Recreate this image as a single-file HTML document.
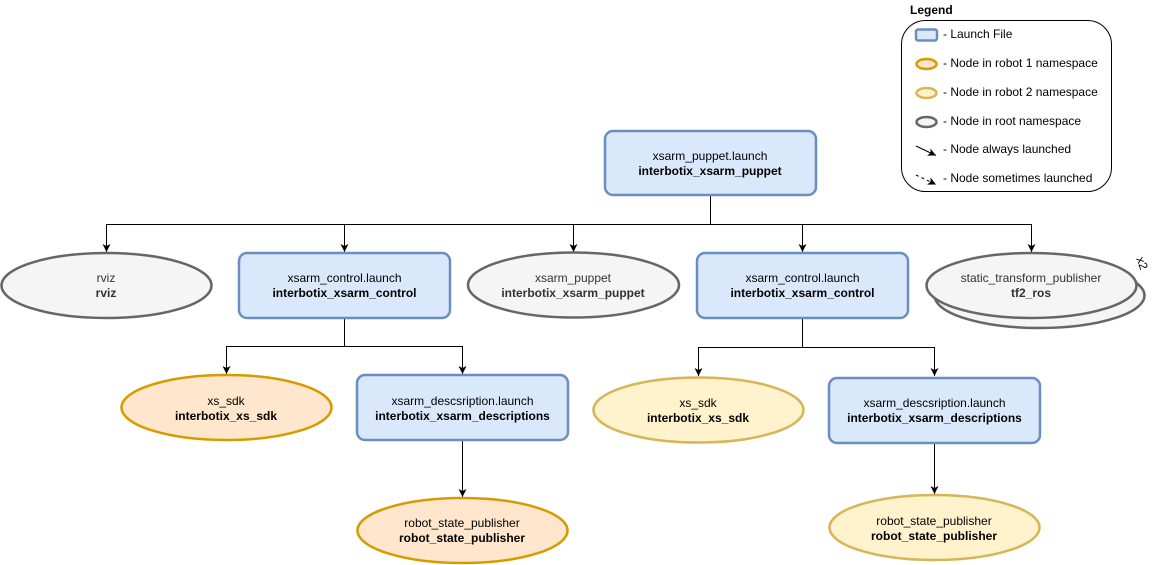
<!DOCTYPE html>
<html>
<head>
<meta charset="utf-8">
<style>
html,body{margin:0;padding:0;background:#fff;}
svg{display:block;}
text{font-family:"Liberation Sans",Arial,sans-serif;font-size:12px;}
.b{font-weight:bold;}
</style>
</head>
<body>
<svg width="1159" height="565" viewBox="0 0 1159 565" xmlns="http://www.w3.org/2000/svg">
<defs>
<marker id="ah" markerWidth="10" markerHeight="10" refX="0" refY="0" orient="auto" markerUnits="userSpaceOnUse" viewBox="-9 -5 10 10">
<path d="M0,0 L-8,-4 L-6,0 L-8,4 Z" fill="#000"/>
</marker>
</defs>

<!-- connectors -->
<g stroke="#000" stroke-width="1" fill="none">
  <line x1="710.5" y1="196" x2="710.5" y2="224.5"/>
  <line x1="106" y1="224.5" x2="1031.5" y2="224.5"/>
  <line x1="106.5" y1="224" x2="106.5" y2="252" marker-end="url(#ah)"/>
  <line x1="344.5" y1="224" x2="344.5" y2="252" marker-end="url(#ah)"/>
  <line x1="573.5" y1="224" x2="573.5" y2="252" marker-end="url(#ah)"/>
  <line x1="802.5" y1="224" x2="802.5" y2="252" marker-end="url(#ah)"/>
  <line x1="1031.5" y1="224" x2="1031.5" y2="252" marker-end="url(#ah)"/>

  <line x1="344.5" y1="319" x2="344.5" y2="346.5"/>
  <line x1="226.5" y1="346.5" x2="462.5" y2="346.5"/>
  <line x1="226.5" y1="346" x2="226.5" y2="374" marker-end="url(#ah)"/>
  <line x1="462.5" y1="346" x2="462.5" y2="374" marker-end="url(#ah)"/>

  <line x1="802.5" y1="319" x2="802.5" y2="347.5"/>
  <line x1="698.5" y1="347.5" x2="934.5" y2="347.5"/>
  <line x1="698.5" y1="347" x2="698.5" y2="376" marker-end="url(#ah)"/>
  <line x1="934.5" y1="347" x2="934.5" y2="376" marker-end="url(#ah)"/>

  <line x1="462.5" y1="441" x2="462.5" y2="497" marker-end="url(#ah)"/>
  <line x1="934.5" y1="443" x2="934.5" y2="494" marker-end="url(#ah)"/>
</g>

<!-- puppet launch -->
<rect x="605" y="131" width="211" height="64" rx="8" fill="#dae8fc" stroke="#6c8ebf" stroke-width="2.5"/>
<text x="710" y="160" text-anchor="middle">xsarm_puppet.launch</text>
<text x="710" y="175" text-anchor="middle" class="b">interbotix_xsarm_puppet</text>

<!-- rviz -->
<ellipse cx="106.5" cy="285.5" rx="105" ry="32.5" fill="#f5f5f5" stroke="#666" stroke-width="2.5"/>
<text x="106" y="282" text-anchor="middle" fill="#333">rviz</text>
<text x="106" y="297" text-anchor="middle" class="b" fill="#333">rviz</text>

<!-- control 1 -->
<rect x="239" y="253" width="211" height="65" rx="8" fill="#dae8fc" stroke="#6c8ebf" stroke-width="2.5"/>
<text x="344.5" y="282" text-anchor="middle">xsarm_control.launch</text>
<text x="344.5" y="297" text-anchor="middle" class="b">interbotix_xsarm_control</text>

<!-- xsarm_puppet node -->
<ellipse cx="573.5" cy="285" rx="105.5" ry="32.5" fill="#f5f5f5" stroke="#666" stroke-width="2.5"/>
<text x="573" y="282" text-anchor="middle" fill="#333">xsarm_puppet</text>
<text x="573" y="297" text-anchor="middle" class="b" fill="#333">interbotix_xsarm_puppet</text>

<!-- control 2 -->
<rect x="697" y="253" width="211" height="65" rx="8" fill="#dae8fc" stroke="#6c8ebf" stroke-width="2.5"/>
<text x="802.5" y="282" text-anchor="middle">xsarm_control.launch</text>
<text x="802.5" y="297" text-anchor="middle" class="b">interbotix_xsarm_control</text>

<!-- static tf stacked -->
<ellipse cx="1039.5" cy="295.5" rx="105" ry="32.5" fill="#f5f5f5" stroke="#666" stroke-width="2.5"/>
<ellipse cx="1031.5" cy="285.5" rx="105" ry="32.5" fill="#f5f5f5" stroke="#666" stroke-width="2.5"/>
<text x="1031" y="282" text-anchor="middle" fill="#333">static_transform_publisher</text>
<text x="1031" y="297" text-anchor="middle" class="b" fill="#333">tf2_ros</text>
<text x="1131" y="262" transform="rotate(70 1136 264)" font-size="14" fill="#000">x2</text>

<!-- xs_sdk robot1 -->
<ellipse cx="226.5" cy="407.5" rx="105" ry="32.5" fill="#ffe6cc" stroke="#d79b00" stroke-width="2.5"/>
<text x="226" y="405" text-anchor="middle">xs_sdk</text>
<text x="226" y="420" text-anchor="middle" class="b">interbotix_xs_sdk</text>

<!-- desc 1 -->
<rect x="357" y="375" width="211" height="65" rx="8" fill="#dae8fc" stroke="#6c8ebf" stroke-width="2.5"/>
<text x="462.5" y="405" text-anchor="middle">xsarm_descsription.launch</text>
<text x="462.5" y="420" text-anchor="middle" class="b">interbotix_xsarm_descriptions</text>

<!-- xs_sdk robot2 -->
<ellipse cx="698.5" cy="410" rx="105" ry="32.5" fill="#fff2cc" stroke="#d6b656" stroke-width="2.5"/>
<text x="698" y="407" text-anchor="middle">xs_sdk</text>
<text x="698" y="422" text-anchor="middle" class="b">interbotix_xs_sdk</text>

<!-- desc 2 -->
<rect x="829" y="378" width="211" height="65" rx="8" fill="#dae8fc" stroke="#6c8ebf" stroke-width="2.5"/>
<text x="934.5" y="407" text-anchor="middle">xsarm_descsription.launch</text>
<text x="934.5" y="422" text-anchor="middle" class="b">interbotix_xsarm_descriptions</text>

<!-- rsp 1 -->
<ellipse cx="462.5" cy="530.5" rx="105" ry="32.5" fill="#ffe6cc" stroke="#d79b00" stroke-width="2.5"/>
<text x="462" y="527" text-anchor="middle">robot_state_publisher</text>
<text x="462" y="542" text-anchor="middle" class="b">robot_state_publisher</text>

<!-- rsp 2 -->
<ellipse cx="934.5" cy="527.5" rx="105" ry="32.5" fill="#fff2cc" stroke="#d6b656" stroke-width="2.5"/>
<text x="934" y="525" text-anchor="middle">robot_state_publisher</text>
<text x="934" y="540" text-anchor="middle" class="b">robot_state_publisher</text>

<!-- legend -->
<text x="910" y="14" class="b">Legend</text>
<rect x="901.5" y="20.5" width="210" height="171" rx="24" fill="#fff" stroke="#000" stroke-width="1"/>
<rect x="916" y="29.5" width="21" height="11" rx="2" fill="#dae8fc" stroke="#6c8ebf" stroke-width="2.5"/>
<text x="943" y="38">- Launch File</text>
<ellipse cx="926.5" cy="64" rx="10" ry="5" fill="#ffe6cc" stroke="#d79b00" stroke-width="2.5"/>
<text x="943" y="67">- Node in robot 1 namespace</text>
<ellipse cx="926.5" cy="93" rx="10" ry="5" fill="#fff2cc" stroke="#d6b656" stroke-width="2.5"/>
<text x="943" y="96">- Node in robot 2 namespace</text>
<ellipse cx="926.5" cy="122" rx="10" ry="5" fill="#f5f5f5" stroke="#666" stroke-width="2.5"/>
<text x="943" y="125">- Node in root namespace</text>
<line x1="916" y1="146" x2="936" y2="155.5" stroke="#000" stroke-width="1" marker-end="url(#ah)"/>
<text x="943" y="153">- Node always launched</text>
<line x1="916" y1="175" x2="936" y2="184.5" stroke="#000" stroke-width="1" stroke-dasharray="3,3" marker-end="url(#ah)"/>
<text x="943" y="182">- Node sometimes launched</text>
</svg>
</body>
</html>
